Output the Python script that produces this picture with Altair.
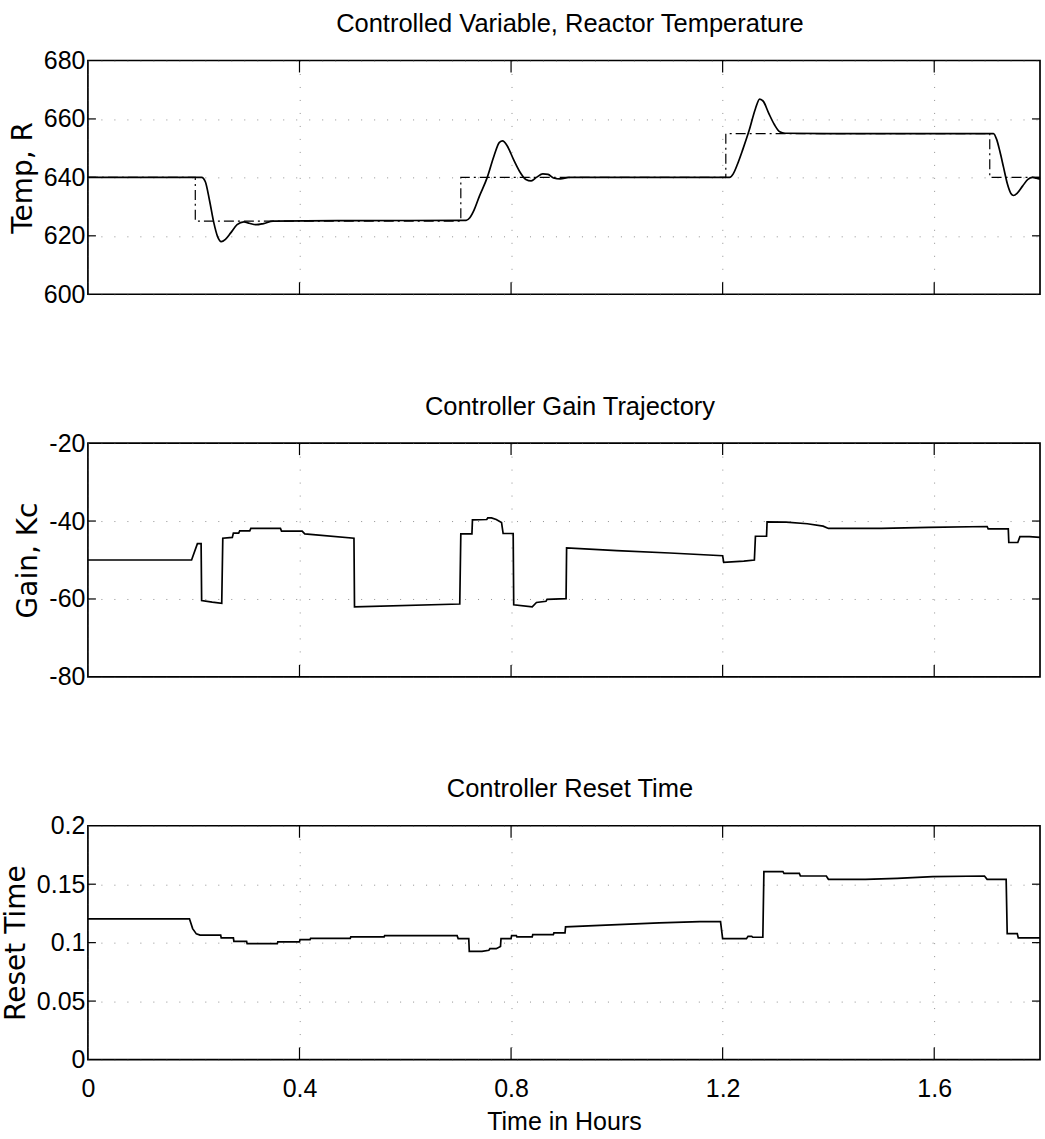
import altair as alt
import pandas as pd

# ---------------- data ----------------
x_ticks = [0, 0.4, 0.8, 1.2, 1.6]

temp_t = [0, 0.215, 0.222, 0.230, 0.238, 0.245, 0.252, 0.260, 0.270, 0.282, 0.295,
          0.305, 0.318, 0.332, 0.350, 0.500, 0.715,
          0.722, 0.730, 0.740, 0.755, 0.768, 0.778, 0.784, 0.792, 0.805, 0.818,
          0.828, 0.838, 0.848, 0.860, 0.870, 0.880, 0.893, 0.910, 1.000, 1.213,
          1.220, 1.228, 1.238, 1.250, 1.262, 1.270, 1.277, 1.287, 1.298, 1.308,
          1.318, 1.400, 1.712,
          1.718, 1.724, 1.731, 1.738, 1.745, 1.750, 1.757, 1.767, 1.777, 1.786,
          1.793, 1.800]
temp_v = [640, 640, 638.5, 632, 624.5, 619.8, 618, 618.8, 621, 623.8, 624.8,
          624.3, 623.8, 624.2, 625, 625.2, 625.3,
          626.2, 628.8, 633.5, 640, 647.5, 652, 652.5, 651, 646, 641.5,
          639.3, 638.8, 640, 641.2, 641, 639.8, 639.5, 640, 640, 640,
          641.2, 644.5, 649.5, 656, 663.5, 666.8, 666, 662, 658, 655.6,
          655.1, 655, 655,
          653, 649, 643.5, 638, 634.5, 633.8, 634.6, 637, 639.3, 640,
          639.7, 639.4]

sp_t = [0, 0.203, 0.203, 0.705, 0.705, 1.206, 1.206, 1.705, 1.705, 1.8]
sp_v = [640, 640, 625, 625, 640, 640, 655, 655, 640, 640]

gain_t = [0, 0.196, 0.207, 0.214, 0.215, 0.235, 0.253, 0.255, 0.273, 0.275,
          0.285, 0.287, 0.306, 0.308, 0.364, 0.366, 0.405, 0.410, 0.503,
          0.504, 0.703, 0.705, 0.726, 0.727, 0.754, 0.756, 0.763, 0.772,
          0.782, 0.785, 0.804, 0.805, 0.840, 0.848, 0.866, 0.868, 0.904,
          0.905, 1.000, 1.100, 1.200, 1.202, 1.240, 1.260, 1.262, 1.283,
          1.284, 1.320, 1.360, 1.390, 1.400, 1.500, 1.590, 1.700, 1.702,
          1.740, 1.741, 1.758, 1.762, 1.780, 1.800]
gain_v = [-50, -50, -45.8, -45.8, -60.4, -60.8, -61.1, -44.4, -44.2, -43.1,
          -43.1, -42.5, -42.5, -41.9, -41.9, -42.6, -42.6, -43.3, -44.4,
          -62, -61.3, -43.3, -43.3, -39.7, -39.6, -39.2, -39.2, -39.6,
          -40.4, -43.2, -43.2, -61.5, -62, -60.9, -60.6, -60.1, -59.9,
          -46.9, -47.6, -48.2, -48.9, -50.6, -50.3, -50.0, -43.9, -43.9,
          -40.2, -40.3, -40.7, -41.3, -41.9, -41.9, -41.6, -41.4, -42,
          -42, -45.5, -45.5, -44, -44, -44.2]

reset_t = [0, 0.192, 0.198, 0.205, 0.212, 0.251, 0.252, 0.275, 0.276, 0.300,
           0.301, 0.358, 0.359, 0.400, 0.401, 0.420, 0.421, 0.496, 0.497,
           0.560, 0.561, 0.698, 0.700, 0.720, 0.721, 0.745, 0.758, 0.760,
           0.772, 0.780, 0.781, 0.800, 0.801, 0.810, 0.811, 0.840, 0.841,
           0.880, 0.881, 0.902, 0.903, 0.968, 1.080, 1.157, 1.196, 1.200,
           1.245, 1.248, 1.255, 1.257, 1.276, 1.278, 1.314, 1.316, 1.345,
           1.347, 1.396, 1.400, 1.470, 1.530, 1.597, 1.695, 1.700, 1.736,
           1.738, 1.757, 1.759, 1.800]
reset_v = [0.1204, 0.1204, 0.112, 0.1075, 0.1064, 0.1064, 0.104, 0.104, 0.1011,
           0.1011, 0.0991, 0.0991, 0.1006, 0.1006, 0.1026, 0.1026, 0.1037,
           0.1037, 0.1049, 0.1049, 0.1060, 0.1060, 0.1035, 0.1035, 0.0925,
           0.0925, 0.0935, 0.0948, 0.0948, 0.0968, 0.1035, 0.1035, 0.106,
           0.106, 0.1049, 0.1049, 0.1069, 0.1069, 0.1083, 0.1083, 0.1135,
           0.1147, 0.1169, 0.118, 0.118, 0.1034, 0.1034, 0.1054, 0.1054,
           0.1046, 0.1046, 0.1608, 0.1608, 0.1593, 0.1593, 0.157, 0.157,
           0.1542, 0.1542, 0.155, 0.1564, 0.157, 0.1542, 0.1542, 0.1077,
           0.1077, 0.104, 0.104]

temp_ticks = [600, 620, 640, 660, 680]
gain_ticks = [-80, -60, -40, -20]
reset_ticks = [0, 0.05, 0.1, 0.15, 0.2]

# ---------------- styling ----------------
W, H = 953, 234
NARROW = "Liberation Sans, Arial, Helvetica, sans-serif"
WIDE = "DejaVu Sans"
XT_LEN, YT_LEN = 12, 8


def panel(title, ytitle, ydomain, yticks, series, dashed=None, show_x=False):
    xscale = alt.Scale(domain=[0, 1.8], nice=False, zero=False)
    yscale = alt.Scale(domain=ydomain, nice=False, zero=False)
    common = dict(grid=True, gridColor="#555555", gridDash=[1, 12], gridWidth=1,
                  gridOpacity=0.65, ticks=False, domain=False)
    if show_x:
        xaxis = alt.Axis(values=x_ticks, title="Time in Hours", labelFont=NARROW,
                         labelFontSize=25, labelPadding=17, labelColor="black",
                         titleFont=NARROW, titleFontSize=25, titleFontWeight="normal",
                         titlePadding=8, titleColor="black",
                         labelFlush=False, labelExpr="'' + datum.value", **common)
    else:
        xaxis = alt.Axis(values=x_ticks, title="", labels=False, **common)
    yaxis = alt.Axis(values=yticks, title=ytitle, labelFont=NARROW, labelFontSize=25,
                     labelPadding=3, labelColor="black", titleFont=WIDE, titleFontSize=28,
                     titleFontWeight="normal", titleColor="black", titlePadding=6,
                     labelFlush=False, labelExpr="'' + datum.value", **common)

    df = pd.DataFrame({"t": series[0], "v": series[1], "i": range(len(series[0]))})
    main = alt.Chart(df).mark_line(color="black", strokeWidth=1.7,
                                   interpolate=series[2]).encode(
        x=alt.X("t:Q", scale=xscale, axis=xaxis),
        y=alt.Y("v:Q", scale=yscale, axis=yaxis),
        order="i:Q",
    )
    layers = [main]
    if dashed is not None:
        dd = pd.DataFrame({"t": dashed[0], "v": dashed[1], "i": range(len(dashed[0]))})
        layers.append(alt.Chart(dd).mark_line(color="black", strokeWidth=1.2,
                                              strokeDash=[10, 4, 2, 4]).encode(
            x=alt.X("t:Q", scale=xscale, axis=xaxis),
            y=alt.Y("v:Q", scale=yscale, axis=yaxis),
            order="i:Q",
        ))

    xt = pd.DataFrame({"t": [v for v in x_ticks if v > 0]})
    yt = pd.DataFrame({"v": [v for v in yticks if ydomain[0] < v < ydomain[1]]})
    tick_style = dict(color="black", strokeWidth=1.2)
    layers += [
        alt.Chart(xt).mark_rule(**tick_style).encode(
            x=alt.X("t:Q", scale=xscale, axis=xaxis),
            y=alt.value(0), y2=alt.value(XT_LEN)),
        alt.Chart(xt).mark_rule(**tick_style).encode(
            x=alt.X("t:Q", scale=xscale, axis=xaxis),
            y=alt.value(H), y2=alt.value(H - XT_LEN)),
        alt.Chart(yt).mark_rule(**tick_style).encode(
            y=alt.Y("v:Q", scale=yscale, axis=yaxis),
            x=alt.value(0), x2=alt.value(YT_LEN)),
        alt.Chart(yt).mark_rule(**tick_style).encode(
            y=alt.Y("v:Q", scale=yscale, axis=yaxis),
            x=alt.value(W), x2=alt.value(W - YT_LEN)),
    ]
    return alt.layer(*layers).properties(
        width=W, height=H,
        title=alt.TitleParams(title, font=NARROW, fontSize=25.5, fontWeight="normal",
                              color="black", baseline="alphabetic", offset=-9,
                              anchor="middle", frame="group", dx=6),
    )


p1 = panel("Controlled Variable, Reactor Temperature", "Temp, R", [600, 680], temp_ticks,
           (temp_t, temp_v, "monotone"), dashed=(sp_t, sp_v))
p2 = panel("Controller Gain Trajectory", "Gain, Kc", [-80, -20], gain_ticks,
           (gain_t, gain_v, "linear"))
p3 = panel("Controller Reset Time", "Reset Time", [0, 0.2], reset_ticks,
           (reset_t, reset_v, "linear"), show_x=True)

chart = alt.vconcat(p1, p2, p3, spacing=85).properties(
    padding={"left": 1, "top": 10, "right": 0, "bottom": 0},
    background="white",
).configure_view(
    stroke="black", strokeWidth=1.7,
)

chart.save("out.html", embed_options={"renderer": "svg", "actions": False})
